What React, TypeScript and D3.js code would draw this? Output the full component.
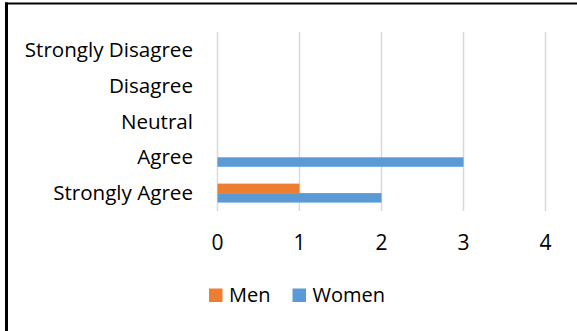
import { useEffect, useRef } from 'react';
import * as d3 from 'd3';

const categories = ['Strongly Disagree', 'Disagree', 'Neutral', 'Agree', 'Strongly Agree'];
const seriesNames = ['Men', 'Women'];
const menValues = [0, 0, 0, 0, 1];
const womenValues = [0, 0, 0, 3, 2];
const xTicks = [0, 1, 2, 3, 4];
const colors = ['#ED7D31', '#5B9BD5'];

const FONT = '"Open Sans", Lato, sans-serif';

const App: React.FC = () => {
	const ref = useRef<SVGSVGElement>(null);

	useEffect(() => {
		if (!ref.current) return;
		const svg = d3.select(ref.current);
		svg.selectAll('*').remove();

		const width = 577;
		const height = 331;

		svg.append('rect').attr('width', width).attr('height', height).attr('fill', '#fff');

		// frame (only left and top edges are visible)
		svg.append('rect').attr('x', 5).attr('y', 2.5).attr('width', 3).attr('height', height).attr('fill', '#000');
		svg.append('rect').attr('x', 5).attr('y', 2.5).attr('width', width).attr('height', 2).attr('fill', '#000');

		const x = d3.scaleLinear().domain([0, 4]).range([217.5, 545.5]);
		const y = d3.scaleBand<string>().domain(categories).range([32, 211]).paddingInner(0.47).paddingOuter(0.235);
		const inner = d3.scaleBand<string>().domain(seriesNames).range([0, y.bandwidth()]);

		const rows = categories.map((c, i) => ({ cat: c, values: [menValues[i], womenValues[i]] }));

		// grid
		svg.append('g')
			.selectAll('line')
			.data(xTicks)
			.join('line')
			.attr('x1', (d) => x(d))
			.attr('x2', (d) => x(d))
			.attr('y1', 32)
			.attr('y2', 211)
			.attr('stroke', '#D9D9D9')
			.attr('stroke-width', 1.5);

		// bars
		const g = svg.append('g');
		rows.forEach((r) => {
			r.values.forEach((v, si) => {
				if (v <= 0) return;
				g.append('rect')
					.attr('x', x(0))
					.attr('y', (y(r.cat) ?? 0) + (inner(seriesNames[si]) ?? 0))
					.attr('width', x(v) - x(0))
					.attr('height', inner.bandwidth())
					.attr('fill', colors[si]);
			});
		});

		// category labels
		svg.append('g')
			.selectAll('text')
			.data(categories)
			.join('text')
			.attr('x', 193)
			.attr('y', (d) => (y(d) ?? 0) + y.bandwidth() / 2 + 7)
			.attr('text-anchor', 'end')
			.style('font-family', FONT)
			.style('font-size', '20.6px')
			.style('fill', '#000')
			.text((d) => d);

		// x tick labels
		svg.append('g')
			.selectAll('text')
			.data(xTicks)
			.join('text')
			.attr('x', (d) => x(d))
			.attr('y', 250)
			.attr('text-anchor', 'middle')
			.style('font-family', FONT)
			.style('font-size', '21px')
			.style('fill', '#000')
			.text((d) => String(d));

		// legend
		const legendX = [209, 292.5];
		const lg = svg.append('g');
		seriesNames.forEach((name, i) => {
			lg.append('rect')
				.attr('x', legendX[i])
				.attr('y', 288.5)
				.attr('width', 13.5)
				.attr('height', 13.5)
				.attr('fill', colors[i]);
			lg.append('text')
				.attr('x', legendX[i] + 20)
				.attr('y', 302)
				.style('font-family', FONT)
				.style('font-size', '20px')
				.style('fill', '#000')
				.text(name);
		});
	}, []);

	return (
		<svg
			ref={ref}
			width={577}
			height={331}
			style={{ position: 'absolute', left: 0, top: 0, display: 'block' }}
		></svg>
	);
};

export default App;
